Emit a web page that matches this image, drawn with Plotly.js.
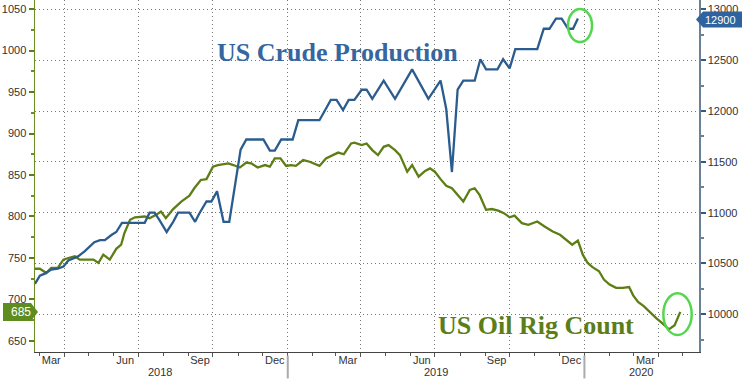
<!DOCTYPE html>
<html>
<head>
<meta charset="utf-8">
<script src="https://cdn.plot.ly/plotly-3.0.1.min.js"></script>
<style>html,body{margin:0;padding:0;background:#fff;}#chart{width:742px;height:380px;}</style>
</head>
<body>
<div id="chart"></div>
<script>
// US crude production (kb/d, right axis)
const prodDates = ['2018-02-24','2018-03-02','2018-03-08','2018-03-16','2018-03-24','2018-03-31','2018-04-06','2018-04-12','2018-04-18','2018-04-26','2018-05-02','2018-05-08','2018-05-15','2018-05-21','2018-05-29','2018-06-04','2018-06-11','2018-06-18','2018-07-09','2018-07-15','2018-07-21','2018-07-27','2018-08-05','2018-08-13','2018-08-19','2018-09-02','2018-09-09','2018-09-14','2018-09-23','2018-09-29','2018-10-06','2018-10-14','2018-10-21','2018-11-04','2018-11-11','2018-12-02','2018-12-10','2018-12-16','2018-12-24','2019-01-07','2019-01-14','2019-02-09','2019-02-23','2019-03-02','2019-03-10','2019-03-17','2019-03-24','2019-04-02','2019-04-08','2019-04-15','2019-04-29','2019-05-13','2019-06-03','2019-06-23','2019-07-08','2019-07-15','2019-07-22','2019-07-29','2019-08-05','2019-08-19','2019-08-26','2019-09-02','2019-09-16','2019-09-23','2019-10-01','2019-10-08','2019-11-04','2019-11-12','2019-11-19','2019-11-27','2019-12-04','2019-12-12','2019-12-18','2019-12-24'];
const prodValues = [10300,10380,10400,10440,10450,10470,10530,10550,10570,10620,10670,10710,10730,10730,10780,10810,10900,10900,10900,11000,11000,10930,10810,10910,11000,11000,10910,10990,11110,11110,11210,10910,10910,11620,11720,11720,11610,11610,11720,11720,11910,11910,12110,12110,12010,12110,12110,12210,12210,12120,12300,12120,12410,12120,12300,12020,11400,12210,12300,12300,12510,12410,12410,12510,12420,12610,12610,12810,12810,12910,12910,12810,12810,12910];

// US oil rig count (left axis)
const rigDates = ['2018-02-24','2018-03-02','2018-03-10','2018-03-16','2018-03-24','2018-03-31','2018-04-06','2018-04-14','2018-04-20','2018-05-07','2018-05-13','2018-05-19','2018-05-27','2018-06-04','2018-06-10','2018-06-14','2018-06-21','2018-06-27','2018-07-09','2018-07-15','2018-07-23','2018-07-29','2018-08-04','2018-08-13','2018-08-23','2018-09-02','2018-09-08','2018-09-16','2018-09-23','2018-10-01','2018-10-07','2018-10-20','2018-10-26','2018-11-03','2018-11-11','2018-11-17','2018-11-25','2018-12-04','2018-12-10','2018-12-16','2018-12-23','2018-12-30','2019-01-05','2019-01-11','2019-01-20','2019-01-28','2019-02-09','2019-02-17','2019-03-04','2019-03-11','2019-03-20','2019-03-24','2019-04-02','2019-04-08','2019-04-15','2019-04-22','2019-04-29','2019-05-05','2019-05-13','2019-05-19','2019-05-28','2019-06-03','2019-06-11','2019-06-19','2019-06-25','2019-07-01','2019-07-08','2019-07-15','2019-07-22','2019-07-29','2019-08-05','2019-08-13','2019-08-19','2019-08-25','2019-09-02','2019-09-09','2019-09-17','2019-09-24','2019-10-01','2019-10-07','2019-10-16','2019-10-24','2019-11-04','2019-11-13','2019-11-23','2019-12-02','2019-12-10','2019-12-17','2019-12-24','2019-12-30','2020-01-05','2020-01-11','2020-01-19','2020-01-25','2020-02-01','2020-02-09','2020-02-17','2020-02-25','2020-03-01','2020-03-07','2020-03-14','2020-03-21','2020-03-30','2020-04-05','2020-04-14','2020-04-21','2020-04-28'];
const rigValues = [737,737,732,738,738,748,750,752,748,748,744,754,748,761,766,780,796,799,800,798,802,806,798,809,818,825,834,844,845,860,862,864,862,859,865,864,859,862,860,870,870,861,862,861,868,866,861,870,877,875,888,889,886,888,880,874,884,886,880,874,854,862,848,855,858,854,845,837,834,826,818,832,834,826,808,809,807,804,799,801,792,790,794,788,782,778,772,766,771,754,744,739,734,724,718,714,714,715,705,697,692,685,677,672,664,669,685];

// axis labels
const monthLabelDates = ['2018-03-16','2018-06-15','2018-09-15','2018-12-16','2019-03-16','2019-06-15','2019-09-15','2019-12-16','2020-03-16'];
const yearLabels = ['2018','2019','2020'];
const yearLabelDates = ['2018-07-28','2019-07-02','2020-03-11'];
const yearBreaks = ['2019-01-01','2020-01-01'];
const rigLast = 685;
const prodLast = 12900;

const xRange = ['2018-02-24','2020-05-21'];
const tickFont = 'Liberation Sans, Arial, sans-serif';
const serif = 'Liberation Serif, Times New Roman, serif';
const blue = '#2b5c8e';
const green = '#5d7d15';
const gridDash = '1px,3px';

const traces = [
  {x: rigDates, y: rigValues, type:'scatter', mode:'lines', xaxis:'x', yaxis:'y',
   line:{color:green, width:2.3}, hoverinfo:'skip'},
  {x: prodDates, y: prodValues, type:'scatter', mode:'lines', xaxis:'x2', yaxis:'y2',
   line:{color:blue, width:2.3}, hoverinfo:'skip'}
];

const annotations = [
  {xref:'paper', yref:'paper', x:0.4556, y:0.852, xanchor:'center', yanchor:'middle', showarrow:false,
   text:'<b>US Crude Production</b>', font:{family:serif, size:26, color:'#3566a0'}},
  {xref:'paper', yref:'paper', x:0.7538, y:0.074, xanchor:'center', yanchor:'middle', showarrow:false,
   text:'<b>US Oil Rig Count</b>', font:{family:serif, size:26, color:'#5b7e1a'}},
  {xref:'paper', yref:'y', x:0, y:rigLast, xanchor:'center', yanchor:'middle', xshift:-14, showarrow:false,
   text:String(rigLast), font:{family:tickFont, size:12, color:'#ffffff'}},
  {xref:'paper', yref:'y2', x:1, y:prodLast, xanchor:'center', yanchor:'middle', xshift:21, showarrow:false,
   text:String(prodLast), font:{family:tickFont, size:11, color:'#ffffff'}}
];
yearLabels.forEach((t,i)=>annotations.push({xref:'x', yref:'paper', x:yearLabelDates[i], y:-0.057,
  xanchor:'center', yanchor:'middle', showarrow:false, text:t, font:{family:tickFont, size:11, color:'#333'}}));

const shapes = [
  {type:'path', xref:'paper', yref:'y', xsizemode:'pixel', ysizemode:'pixel', xanchor:0, yanchor:rigLast,
   path:'M-32,-9 L-4,-9 L3,0 L-4,9 L-32,9 Z', fillcolor:'#5e8c1f', line:{width:0}, layer:'above'},
  {type:'path', xref:'paper', yref:'y2', xsizemode:'pixel', ysizemode:'pixel', xanchor:1, yanchor:prodLast,
   path:'M-3,0 L4,-8 L43,-8 L43,8 L4,8 Z', fillcolor:'#2f63a0', line:{width:0}, layer:'above'},
  {type:'circle', xref:'paper', yref:'paper', x0:0.8027, x1:0.8389, y0:0.8807, y1:0.9744,
   line:{color:'#55d64f', width:2.5}, layer:'above'},
  {type:'circle', xref:'paper', yref:'paper', x0:0.9463, x1:0.989, y0:0.0483, y1:0.1668,
   line:{color:'#55d64f', width:2.5}, layer:'above'}
];
yearBreaks.forEach(d=>shapes.push({type:'line', xref:'x', yref:'paper', x0:d, x1:d, y0:-0.01, y1:-0.075,
  line:{color:'#aaaaaa', width:2}}));

const layout = {
  width:742, height:380,
  margin:{l:35, r:43, t:0, b:28, pad:0},
  paper_bgcolor:'#ffffff', plot_bgcolor:'#ffffff',
  showlegend:false,
  font:{family:tickFont, size:11, color:'#333'},
  xaxis:{type:'date', range:xRange, tickmode:'linear', tick0:'2018-01-01', dtick:'M3',
    showticklabels:false, showgrid:true, gridcolor:'#777777', griddash:gridDash, gridwidth:1,
    ticks:'outside', ticklen:4, tickcolor:'#555', showline:true, linecolor:'#444', linewidth:1, zeroline:false,
    minor:{tick0:'2018-01-01', dtick:'M1', ticks:'outside', ticklen:3, tickcolor:'#555', showgrid:false}},
  xaxis2:{type:'date', overlaying:'x', anchor:'y2', side:'bottom', range:xRange,
    tickmode:'array', tickvals:monthLabelDates, tickformat:'%b', ticks:'', showgrid:false, showline:false,
    zeroline:false, tickfont:{family:tickFont, size:11, color:'#333'}},
  yaxis:{range:[636.7,1060.9], tick0:0, dtick:50, ticks:'outside', ticklen:5, tickwidth:2, tickcolor:'#5d7d15',
    showline:true, linecolor:'#6d8f22', linewidth:1.5, showgrid:false, zeroline:false,
    tickfont:{family:tickFont, size:11, color:'#333'},
    minor:{dtick:25, ticks:'outside', ticklen:3, tickcolor:'#6d8f22', showgrid:false}},
  yaxis2:{overlaying:'y', side:'right', anchor:'x2', range:[9629,13093], tick0:0, dtick:500, tickformat:'d',
    ticks:'outside', ticklen:5,
    tickwidth:2, tickcolor:'#2b5c8e', showline:true, linecolor:'#6b8197', linewidth:1.5,
    showgrid:true, gridcolor:'#777777', griddash:gridDash, gridwidth:1, zeroline:false,
    tickfont:{family:tickFont, size:11, color:'#333'},
    minor:{dtick:250, ticks:'outside', ticklen:3, tickcolor:'#6b8197', showgrid:false}},
  annotations:annotations,
  shapes:shapes
};

Plotly.newPlot('chart', traces, layout, {displayModeBar:false, staticPlot:true});
</script>
</body>
</html>
